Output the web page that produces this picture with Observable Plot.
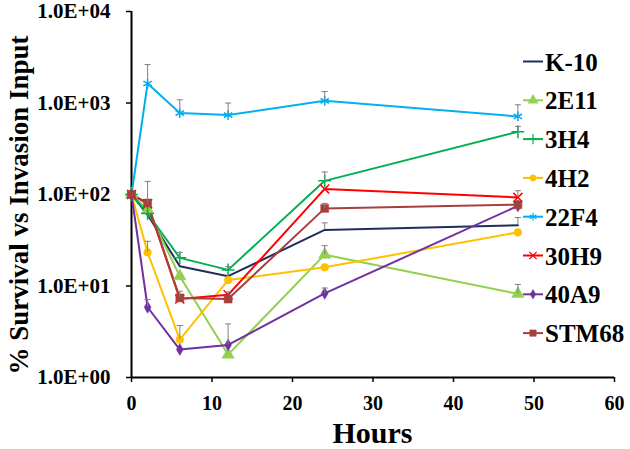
<!DOCTYPE html>
<html>
<head>
<meta charset="utf-8">
<script src="https://cdn.jsdelivr.net/npm/d3@7"></script>
<script src="https://cdn.jsdelivr.net/npm/@observablehq/plot@0.6"></script>
<style>
  html, body { margin: 0; padding: 0; background: #fff; }
  #chart svg { display: block; }
</style>
</head>
<body>
<div id="chart"></div>
<script>
// ---- data ----
const hours = [0, 2, 6, 12, 24, 48];
const seriesNames = ["K-10", "2E11", "3H4", "4H2", "22F4", "30H9", "40A9", "STM68"];
const seriesColors = ["#1f2d5e", "#92d050", "#00b050", "#ffc000", "#00b0f0", "#ff0000", "#7030a0", "#a5403c"];
const seriesSymbols = [null, "triangle", "plus", "circle", "asterisk", "times", "diamond", "square"];

const k10   = [100, 60, 16.4, 12.8, 41, 46];
const e2e11 = [100, 68, 12.8, 1.78, 22, 8.2];
const h3h4  = [100, 62, 20.3, 15.0, 141, 485];
const h4h2  = [100, 23.3, 2.6, 11.6, 16, 38.6];
const f22f4 = [100, 1633, 776, 738, 1057, 713];
const h30h9 = [100, 79, 7.2, 8.0, 115, 93];
const a40a9 = [100, 5.86, 2.02, 2.27, 8.3, 75];
const stm68 = [100, 80.8, 7.41, 7.2, 70.5, 77.4];

// upper end of error bars (null = none drawn)
const k10Err   = [null, null, null, null, 49, 56];
const e2e11Err = [null, null, null, null, 27.6, 10.4];
const h3h4Err  = [null, null, 23.3, 16.3, 176, 554];
const h4h2Err  = [null, 30.8, 3.7, null, null, null];
const f22f4Err = [null, 2630, 1083, 998, 1335, 955];
const h30h9Err = [null, null, null, 8.6, null, 110];
const a40a9Err = [null, 7.1, null, 3.85, 9.5, null];
const stm68Err = [null, 139, 8.75, null, 80, null];

const seriesValues = [k10, e2e11, h3h4, h4h2, f22f4, h30h9, a40a9, stm68];
const seriesErrors = [k10Err, e2e11Err, h3h4Err, h4h2Err, f22f4Err, h30h9Err, a40a9Err, stm68Err];

const xTicks = [0, 10, 20, 30, 40, 50, 60];
const yTicks = [1, 10, 100, 1000, 10000];
const yTickLabels = ["1.0E+00", "1.0E+01", "1.0E+02", "1.0E+03", "1.0E+04"];
const xTitle = "Hours";
const yTitle = "% Survival vs Invasion Input";

// ---- build table ----
const rows = seriesNames.flatMap((name, s) =>
  hours.map((h, i) => ({series: name, hour: h, value: seriesValues[s][i], err: seriesErrors[s][i]})));
const errRows = rows.filter(d => d.err != null);

const FONT = "'Liberation Serif', 'Times New Roman', Times, serif";
const W = 630, H = 449;
const capSymbol = {draw(ctx) { ctx.moveTo(-3, 0); ctx.lineTo(3, 0); }};

const dotStyle = {
  triangle: {r: 4.6, filled: true},
  plus: {r: 4.2, filled: false},
  circle: {r: 3.9, filled: true},
  asterisk: {r: 4.6, filled: false},
  times: {r: 4.2, filled: false},
  diamond: {r: 3.6, filled: true},
  square: {r: 4.5, filled: true}
};

const dotMarks = seriesNames.map((name, s) => {
  const sym = seriesSymbols[s];
  if (!sym) return null;
  const st = dotStyle[sym];
  return Plot.dot(rows.filter(d => d.series === name), {
    x: "hour", y: "value", symbol: () => sym, r: st.r,
    fill: st.filled ? seriesColors[s] : "none",
    stroke: seriesColors[s], strokeWidth: st.filled ? 0.5 : 1.5
  });
}).filter(Boolean);

const chart = Plot.plot({
  width: W, height: H,
  marginLeft: 131, marginRight: 16, marginTop: 11, marginBottom: 72,
  style: {fontFamily: FONT, background: "#fff", color: "#000", overflow: "visible"},
  x: {domain: [0, 60]},
  y: {type: "log", domain: [1, 10000]},
  color: {domain: seriesNames, range: seriesColors},
  symbol: {type: "identity"},
  marks: [
    Plot.axisX({ticks: xTicks, tickSize: 5, tickPadding: 13, fontSize: 20, fontWeight: "bold", label: null, strokeWidth: 1.5}),
    Plot.axisY({ticks: yTicks, tickFormat: d => yTickLabels[yTicks.indexOf(d)], tickSize: 5, tickPadding: 16,
      fontSize: 21, fontWeight: "bold", label: null, strokeWidth: 1.5}),
    Plot.ruleX([0], {stroke: "#000", strokeWidth: 2}),
    Plot.ruleY([1], {stroke: "#000", strokeWidth: 2}),
    Plot.line(rows, {x: "hour", y: "value", z: "series", stroke: "series", strokeWidth: 2}),
    ...dotMarks,
    Plot.ruleX(errRows, {x: "hour", y1: "value", y2: "err", stroke: "#808080", strokeWidth: 1}),
    Plot.dot(errRows, {x: "hour", y: "err", symbol: () => capSymbol, r: 3, stroke: "#808080", strokeWidth: 1, fill: "none"})
  ]
});

document.getElementById("chart").appendChild(chart);

// ---- titles & legend ----
const svg = d3.select(chart);
svg.append("text")
  .attr("x", (131 + (W - 16)) / 2).attr("y", 443)
  .attr("text-anchor", "middle")
  .style("font-family", FONT).style("font-weight", "bold").style("font-size", "30px")
  .attr("fill", "#000").text(xTitle);
svg.append("text")
  .attr("transform", `translate(28, 205) rotate(-90)`)
  .attr("text-anchor", "middle")
  .style("font-family", FONT).style("font-weight", "bold").style("font-size", "27px")
  .attr("fill", "#000").text(yTitle);

const d3Sym = {
  triangle: d3.symbolTriangle, plus: d3.symbolPlus, circle: d3.symbolCircle,
  asterisk: d3.symbolAsterisk, times: d3.symbolTimes, diamond: d3.symbolDiamond, square: d3.symbolSquare
};
const leg = svg.append("g");
seriesNames.forEach((name, s) => {
  const cy = 61.5 + s * 38.8;
  const g = leg.append("g").attr("transform", `translate(0, ${cy})`);
  g.append("line").attr("x1", 523).attr("x2", 543).attr("y1", 0).attr("y2", 0)
    .attr("stroke", seriesColors[s]).attr("stroke-width", 2);
  const sym = seriesSymbols[s];
  if (sym) {
    const st = dotStyle[sym];
    const rr = st.r * 0.8;
    g.append("path")
      .attr("transform", "translate(533,0)")
      .attr("d", d3.symbol().type(d3Sym[sym]).size(Math.PI * rr * rr)())
      .attr("fill", st.filled ? seriesColors[s] : "none")
      .attr("stroke", seriesColors[s]).attr("stroke-width", st.filled ? 0.5 : 1.2);
  }
  g.append("text").attr("x", 545).attr("y", 9)
    .attr("text-anchor", "start")
    .style("font-family", FONT).style("font-weight", "bold").style("font-size", "25px")
    .attr("fill", "#000").text(name);
});
</script>
</body>
</html>
